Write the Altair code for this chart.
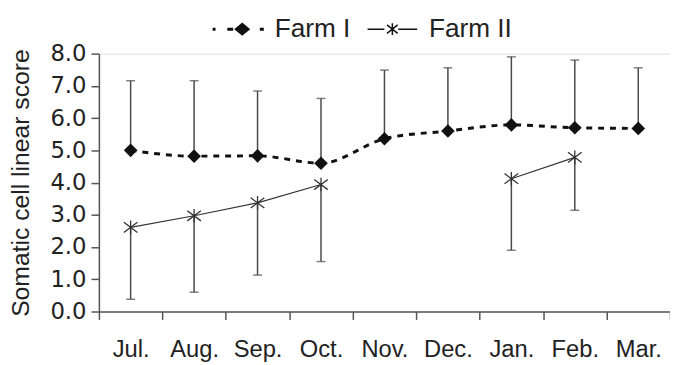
import math
import altair as alt
import pandas as pd

months = ["Jul.", "Aug.", "Sep.", "Oct.", "Nov.", "Dec.", "Jan.", "Feb.", "Mar."]
farm1_mean = [5.00, 4.82, 4.83, 4.60, 5.36, 5.60, 5.79, 5.70, 5.68]
farm1_upper = [7.16, 7.16, 6.84, 6.61, 7.49, 7.56, 7.90, 7.80, 7.56]
farm2_mean = [2.61, 2.97, 3.37, 3.94, None, None, 4.12, 4.78, None]
farm2_lower = [0.38, 0.60, 1.13, 1.55, None, None, 1.90, 3.14, None]
farm2_segment = [1, 1, 1, 1, None, None, 2, 2, None]
series_names = ["Farm I", "Farm II"]
y_ticks = [0, 1, 2, 3, 4, 5, 6, 7, 8]

SANS = "Liberation Sans"
WIDE = "DejaVu Sans"
AX = "#555555"
TXT = "#222222"

df1 = pd.DataFrame({"month": months, "mean": farm1_mean, "upper": farm1_upper})
df2 = pd.DataFrame({"month": months, "mean": farm2_mean, "lower": farm2_lower,
                    "segment": farm2_segment}).dropna()
legend_df = pd.DataFrame({"series": series_names})

x_enc = alt.X("month:N", sort=months,
              scale=alt.Scale(type="band", domain=months, paddingInner=0, paddingOuter=0),
              axis=alt.Axis(title=None, tickBand="extent", tickSize=8, labelPadding=19,
                            labelAngle=0, labelFont=SANS, labelFontSize=24, labelColor=TXT,
                            domainColor=AX, tickColor=AX, domainWidth=1.5, tickWidth=1.5,
                            grid=False, labelOverlap=False))
y_axis = alt.Axis(title="Somatic cell linear score", values=y_ticks, format=".1f",
                  tickCount=9, tickSize=8, labelPadding=5, labelFont=WIDE, labelFontSize=23,
                  labelColor=TXT, titleFont=SANS, titleFontSize=25, titleFontWeight="normal",
                  titleColor=TXT, titlePadding=17, domainColor=AX, tickColor=AX,
                  domainWidth=1.5, tickWidth=1.5, grid=False, labelOverlap=False)
y_scale = alt.Scale(domain=[0, 8], nice=False, zero=True)


def Y(field):
    return alt.Y(field, scale=y_scale, axis=y_axis)


base1 = alt.Chart(df1)
base2 = alt.Chart(df2)

ERR = "#4a4a4a"
err1 = base1.mark_rule(color=ERR, strokeWidth=1.5).encode(
    x=x_enc, y=Y("mean:Q"), y2="upper:Q")
cap1 = base1.mark_tick(color=ERR, size=9, thickness=1.5, orient="horizontal").encode(
    x=x_enc, y=Y("upper:Q"))
err2 = base2.mark_rule(color=ERR, strokeWidth=1.5).encode(
    x=x_enc, y=Y("lower:Q"), y2="mean:Q")
cap2 = base2.mark_tick(color=ERR, size=9, thickness=1.5, orient="horizontal").encode(
    x=x_enc, y=Y("lower:Q"))

line1 = base1.mark_line(color="#111111", strokeWidth=3, strokeDash=[6, 6],
                        interpolate="monotone").encode(x=x_enc, y=Y("mean:Q"))
line2 = base2.mark_line(color="#333333", strokeWidth=1.2).encode(
    x=x_enc, y=Y("mean:Q"), detail="segment:N")

pts1 = base1.mark_point(shape="diamond", filled=True, color="#111111", size=190,
                        opacity=1).encode(x=x_enc, y=Y("mean:Q"))
ASTER = "M-1,-0.75L1,0.75M-1,0.75L1,-0.75M0,-1L0,1"
pts2 = base2.mark_point(shape=ASTER, filled=False, color="#333333", size=190,
                        strokeWidth=1.3, opacity=1).encode(x=x_enc, y=Y("mean:Q"))


# legend symbols (line + marker), drawn as filled polygons
def seg(x1, y1, x2, y2, w=0.028):
    dx, dy = x2 - x1, y2 - y1
    n = math.hypot(dx, dy)
    px, py = -dy / n * w, dx / n * w
    pts = [(x1 + px, y1 + py), (x2 + px, y2 + py), (x2 - px, y2 - py), (x1 - px, y1 - py)]
    return "M" + "L".join(f"{a:.3f},{b:.3f}" for a, b in pts) + "Z"


sym1 = (seg(-0.96, 0, -0.85, 0, 0.055) + seg(-0.41, 0, -0.19, 0, 0.055)
        + "M0.15,-0.25L0.45,0L0.15,0.25L-0.15,0Z"
        + seg(0.81, 0, 0.96, 0, 0.055))
sym2 = (seg(-0.93, 0, -0.3, 0) + seg(0.22, 0, 0.93, 0)
        + seg(-0.2, -0.16, 0.2, 0.16) + seg(-0.2, 0.16, 0.2, -0.16)
        + seg(0, -0.22, 0, 0.22))

legend_layer = alt.Chart(legend_df).transform_filter("false").mark_point(
    filled=True, color="#111111", opacity=1).encode(
    shape=alt.Shape("series:N",
                    scale=alt.Scale(domain=series_names, range=[sym1, sym2]),
                    legend=alt.Legend(title=None, orient="none", direction="horizontal",
                                      legendX=114, legendY=-52, symbolSize=2916,
                                      labelFont=SANS, labelFontSize=26.5, labelColor=TXT,
                                      labelOffset=10, columnPadding=15, padding=0,
                                      symbolFillColor="#111111", symbolStrokeWidth=0,
                                      symbolOpacity=1)))

chart = alt.layer(err1, cap1, err2, cap2, line1, line2, pts1, pts2, legend_layer).properties(
    width=578, height=261,
    autosize=alt.AutoSizeParams(type="none"),
    padding={"left": 92, "top": 44, "right": 0, "bottom": 57},
).configure_view(stroke=None).configure(background="white")

chart.save("out.html", embed_options={"renderer": "svg", "actions": False})
